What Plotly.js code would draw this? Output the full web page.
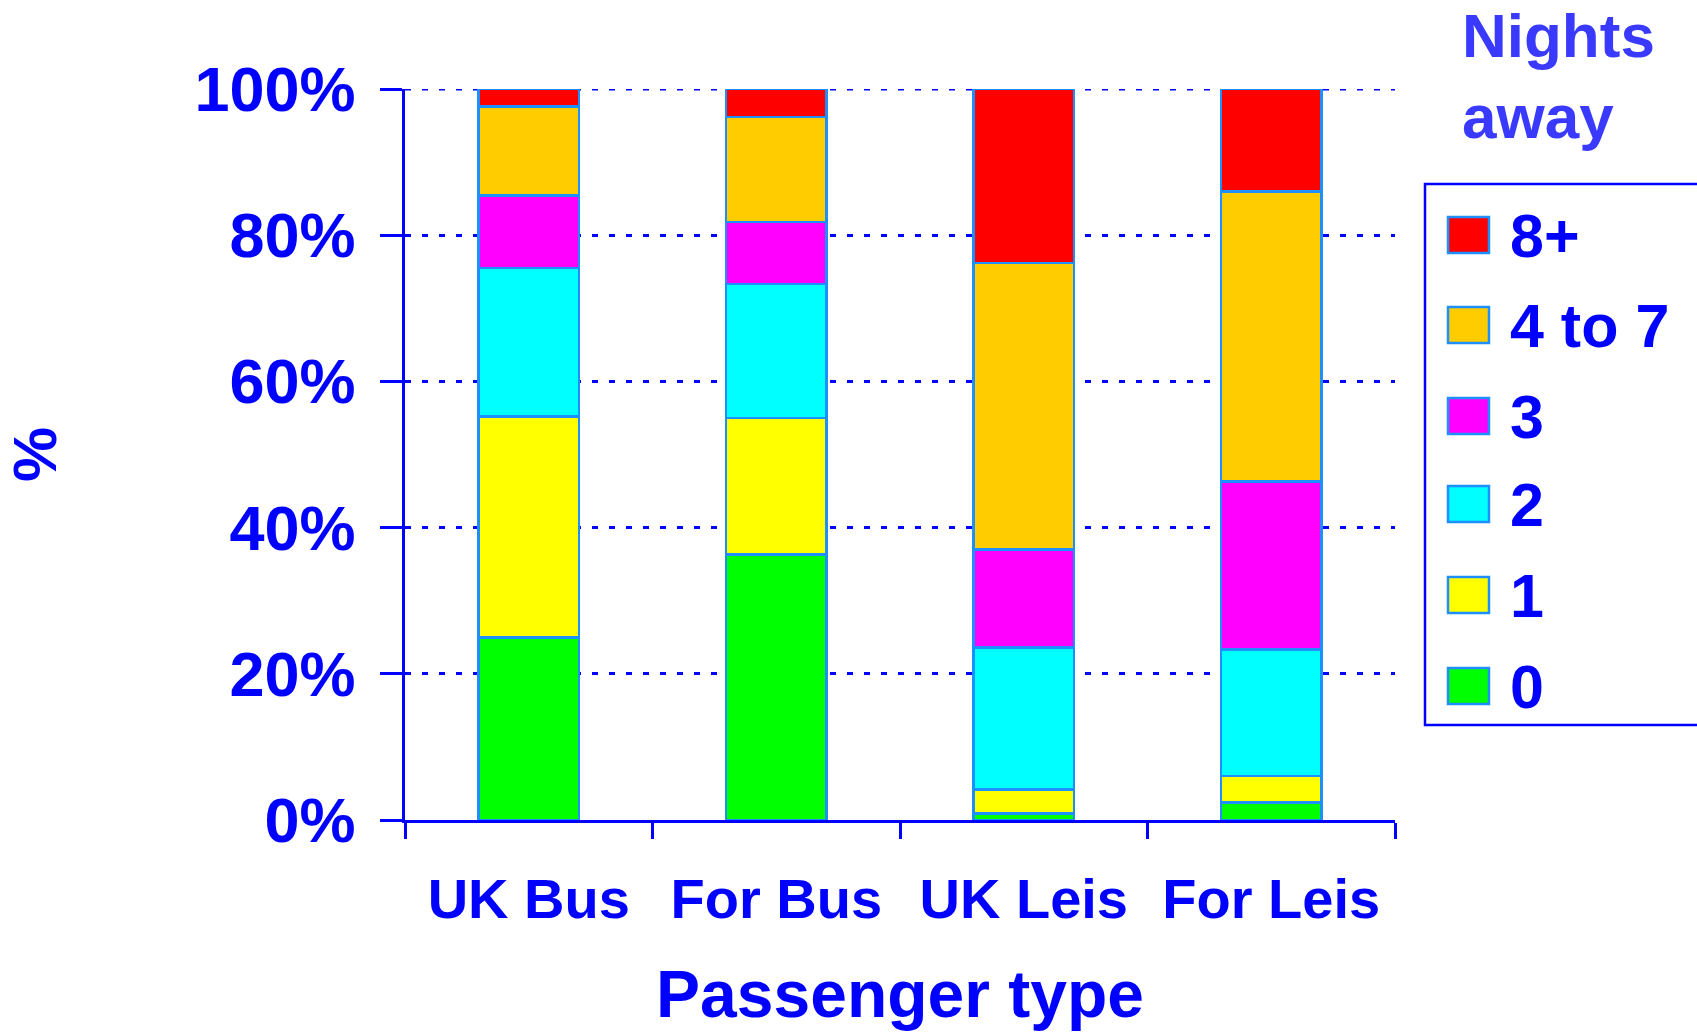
<!DOCTYPE html>
<html>
<head>
<meta charset="utf-8">
<script src="https://cdn.plot.ly/plotly-3.0.1.min.js"></script>
<style>
  html, body { margin: 0; padding: 0; background: #ffffff; }
  #chart { width: 1697px; height: 1032px; }
</style>
</head>
<body>
<div id="chart"></div>
<script>
// ---- data ----
const categories = ['UK Bus', 'For Bus', 'UK Leis', 'For Leis'];
const seriesNames = ['0', '1', '2', '3', '4 to 7', '8+'];
const nights0 = [25.0, 36.3, 0.9, 2.4];
const nights1 = [30.2, 18.7, 3.3, 3.6];
const nights2 = [20.3, 18.3, 19.4, 17.3];
const nights3 = [9.9, 8.5, 13.4, 23.0];
const nights4to7 = [12.2, 14.4, 39.2, 39.7];
const nights8plus = [2.4, 3.8, 23.8, 14.0];
const yTickVals = [0, 20, 40, 60, 80, 100];
const yTickText = ['0%', '20%', '40%', '60%', '80%', '100%'];
const xTitle = 'Passenger type';
const yTitle = '%';
const legendTitleLines = ['Nights', 'away'];

// ---- styles ----
const seriesValues = [nights0, nights1, nights2, nights3, nights4to7, nights8plus];
const seriesColors = ['#00ff00', '#ffff00', '#00ffff', '#ff00ff', '#ffcc00', '#ff0000'];
const BLUE = '#0000ff';
const OUTLINE = '#1e8fff';
const FONT = 'Arial, "Liberation Sans", sans-serif';
const GRIDDASH = '6px,11px';

const W = 1697, H = 1032;
const plotL = 405, plotR = 1395, plotT = 89, plotB = 820;
const px2x = px => (px - plotL) / (plotR - plotL);
const px2y = py => (plotB - py) / (plotB - plotT);

const traces = seriesNames.map((name, i) => ({
  type: 'bar',
  name: name,
  x: categories,
  y: seriesValues[i],
  marker: { color: seriesColors[i], line: { color: OUTLINE, width: 2.5 } },
  hovertemplate: '%{x}<br>' + name + ': %{y:.1f}%<extra></extra>',
  showlegend: false
}));

const topVal = yTickVals[yTickVals.length - 1];
const shapes = [
  // top gridline (Plotly omits the grid line lying on the range edge)
  { type: 'line', xref: 'paper', yref: 'y', x0: 0, x1: 1, y0: topVal, y1: topVal,
    line: { color: BLUE, width: 3, dash: GRIDDASH }, layer: 'below' },
  // custom legend box
  { type: 'rect', xref: 'paper', yref: 'paper',
    x0: px2x(1425), x1: px2x(1720), y0: px2y(725), y1: px2y(184),
    line: { color: BLUE, width: 2.5 }, fillcolor: 'rgba(0,0,0,0)', layer: 'above' }
];
const annotations = [];
const rowY = [686, 595, 504, 416, 325, 235]; // legend row centres, series 0..5
seriesNames.forEach((name, i) => {
  const cy = rowY[i];
  shapes.push({
    type: 'rect', xref: 'paper', yref: 'paper',
    x0: px2x(1448), x1: px2x(1489), y0: px2y(cy + 18), y1: px2y(cy - 18),
    fillcolor: seriesColors[i], line: { color: OUTLINE, width: 2.5 }, layer: 'above'
  });
  annotations.push({
    xref: 'paper', yref: 'paper', x: px2x(1508), y: px2y(cy + 1),
    xanchor: 'left', yanchor: 'middle', showarrow: false, text: name,
    font: { family: FONT, size: 61, color: BLUE, weight: 'bold' }
  });
});
annotations.push({
  xref: 'paper', yref: 'paper', x: px2x(1460), y: px2y(76),
  xanchor: 'left', yanchor: 'middle', align: 'left', showarrow: false,
  text: legendTitleLines.join('<br>'),
  font: { family: FONT, size: 62, color: '#3a3aff', weight: 'bold' }
});

const layout = {
  width: W, height: H,
  margin: { l: plotL, r: W - plotR, t: plotT, b: H - plotB, pad: 0 },
  paper_bgcolor: '#ffffff', plot_bgcolor: '#ffffff',
  barmode: 'stack',
  bargap: 0.595,
  showlegend: false,
  font: { family: FONT, color: BLUE, weight: 'bold' },
  xaxis: {
    type: 'category',
    range: [-0.5, 3.5],
    tickson: 'boundaries',
    ticks: 'outside', ticklen: 16, tickwidth: 2.5, tickcolor: BLUE,
    showline: true, linecolor: BLUE, linewidth: 2.5,
    showgrid: false, zeroline: false,
    tickfont: { family: FONT, size: 56, color: BLUE, weight: 'bold' },
    ticklabelstandoff: 28,
    title: { text: xTitle, standoff: 42, font: { family: FONT, size: 66, color: BLUE, weight: 'bold' } }
  },
  yaxis: {
    range: [0, 100],
    tickmode: 'array', tickvals: yTickVals, ticktext: yTickText,
    ticks: 'outside', ticklen: 22, tickwidth: 2.5, tickcolor: BLUE,
    showline: true, linecolor: BLUE, linewidth: 2.5,
    showgrid: true, gridcolor: BLUE, gridwidth: 3, griddash: GRIDDASH,
    zeroline: false,
    tickfont: { family: FONT, size: 63, color: BLUE, weight: 'bold' },
    ticklabelstandoff: 12,
    title: { text: yTitle, standoff: 118, font: { family: FONT, size: 62, color: BLUE, weight: 'bold' } }
  },
  shapes: shapes,
  annotations: annotations
};

Plotly.newPlot('chart', traces, layout, { displayModeBar: false, responsive: false });
</script>
</body>
</html>
